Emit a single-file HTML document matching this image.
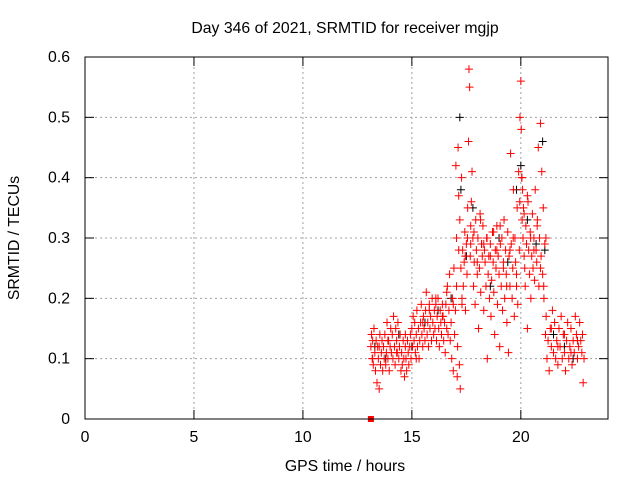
<!DOCTYPE html>
<html><head><meta charset="utf-8"><style>
body{margin:0;background:#fff}
svg{display:block;font-family:"Liberation Sans",sans-serif}
</style></head><body>
<svg id="chart" width="640" height="480">
<text x="345" y="33" font-size="15.8" text-anchor="middle">Day 346 of 2021, SRMTID for receiver mgjp</text>
<text x="345" y="471" font-size="15.8" text-anchor="middle">GPS time / hours</text>
<text transform="translate(19,238) rotate(-90)" font-size="15.8" text-anchor="middle">SRMTID / TECUs</text>
<g id="grid"></g><g id="ticks"></g><g id="black"></g><g id="red"></g>
<rect x="85" y="57" width="523" height="362" fill="none" stroke="#000" stroke-width="1"/>
</svg>
<script>
const xTicks=[0,5,10,15,20];
const yTicks=[0,0.1,0.2,0.3,0.4,0.5,0.6];
const redT=[13.12,13.15,13.18,13.2,13.23,13.26,13.3,13.33,13.36,13.4,13.43,13.46,13.5,13.53,13.56,13.6,13.63,13.66,13.7,13.73,13.76,13.8,13.83,13.86,13.9,13.93,13.96,14.0,14.03,14.06,14.1,14.13,14.16,14.2,14.23,14.26,14.3,14.33,14.36,14.4,14.43,14.46,14.5,14.53,14.56,14.6,14.63,14.66,14.7,14.73,14.76,14.8,14.83,14.86,14.9,14.93,14.96,15.0,15.03,15.06,15.1,15.13,15.16,15.2,15.23,15.26,15.3,15.33,15.36,15.4,15.43,15.46,15.5,15.53,15.56,15.6,15.63,15.66,15.7,15.73,15.76,15.8,15.83,15.86,15.9,15.93,15.96,16.0,16.03,16.06,16.1,16.13,16.16,16.2,16.23,16.26,16.3,16.33,16.36,16.4,16.43,16.46,16.5,16.53,16.56,16.6,16.63,16.66,16.7,16.73,16.76,16.8,16.83,16.86,16.9,16.93,16.96,17.0,17.02,17.05,17.08,17.1,17.12,17.15,17.18,17.2,17.22,17.25,17.28,17.3,17.33,17.36,17.4,17.43,17.46,17.5,17.53,17.56,17.6,17.62,17.65,17.68,17.7,17.73,17.76,17.8,17.83,17.86,17.9,17.93,17.96,18.0,18.03,18.06,18.1,18.13,18.16,18.2,18.23,18.26,18.3,18.33,18.36,18.4,18.43,18.46,18.5,18.53,18.56,18.6,18.63,18.66,18.7,18.73,18.76,18.8,18.83,18.86,18.9,18.93,18.96,19.0,19.03,19.06,19.1,19.13,19.16,19.2,19.23,19.26,19.3,19.33,19.36,19.4,19.43,19.46,19.5,19.53,19.56,19.6,19.63,19.66,19.7,19.73,19.76,19.8,19.83,19.86,19.9,19.93,19.96,20.0,20.02,20.04,20.06,20.08,20.1,20.12,20.15,20.18,20.2,20.23,20.26,20.3,20.33,20.36,20.4,20.43,20.46,20.5,20.53,20.56,20.6,20.63,20.66,20.7,20.73,20.76,20.8,20.83,20.86,20.9,20.93,20.96,21.0,21.03,21.06,21.1,21.13,21.16,21.2,21.25,21.3,21.35,21.4,21.45,21.5,21.55,21.6,21.65,21.7,21.75,21.8,21.85,21.9,21.95,22.0,22.05,22.1,22.15,22.2,22.25,22.3,22.35,22.4,22.45,22.5,22.55,22.6,22.65,22.7,22.75,22.8,22.83,22.86,22.9];
const redV=[0.12,0.14,0.1,0.13,0.09,0.15,0.11,0.08,0.13,0.06,0.12,0.1,0.05,0.14,0.09,0.11,0.13,0.08,0.12,0.1,0.14,0.09,0.11,0.16,0.1,0.13,0.08,0.12,0.15,0.11,0.14,0.1,0.17,0.12,0.09,0.15,0.13,0.11,0.16,0.1,0.12,0.14,0.08,0.11,0.09,0.13,0.1,0.07,0.12,0.1,0.08,0.13,0.11,0.09,0.12,0.14,0.1,0.15,0.12,0.17,0.13,0.16,0.11,0.14,0.18,0.12,0.15,0.1,0.13,0.16,0.19,0.14,0.12,0.17,0.15,0.13,0.18,0.21,0.14,0.16,0.12,0.19,0.15,0.17,0.13,0.2,0.16,0.14,0.18,0.15,0.19,0.13,0.17,0.2,0.15,0.12,0.18,0.16,0.14,0.19,0.17,0.13,0.16,0.11,0.19,0.15,0.22,0.14,0.18,0.24,0.13,0.16,0.1,0.2,0.08,0.25,0.14,0.18,0.42,0.3,0.07,0.12,0.45,0.37,0.09,0.33,0.05,0.25,0.4,0.19,0.28,0.22,0.26,0.31,0.18,0.29,0.24,0.35,0.46,0.58,0.55,0.27,0.32,0.36,0.41,0.3,0.22,0.26,0.19,0.33,0.28,0.24,0.3,0.15,0.25,0.34,0.21,0.29,0.27,0.32,0.18,0.28,0.26,0.22,0.3,0.1,0.24,0.27,0.2,0.29,0.17,0.23,0.31,0.26,0.21,0.14,0.28,0.25,0.32,0.19,0.27,0.24,0.12,0.29,0.22,0.3,0.18,0.26,0.33,0.2,0.28,0.24,0.16,0.31,0.11,0.27,0.22,0.44,0.29,0.2,0.25,0.38,0.17,0.3,0.26,0.22,0.35,0.19,0.41,0.28,0.5,0.56,0.48,0.4,0.33,0.38,0.3,0.35,0.27,0.25,0.22,0.32,0.29,0.15,0.36,0.28,0.24,0.31,0.2,0.27,0.34,0.25,0.3,0.23,0.38,0.28,0.26,0.33,0.45,0.22,0.3,0.49,0.27,0.41,0.24,0.35,0.2,0.29,0.14,0.17,0.1,0.13,0.08,0.15,0.12,0.18,0.11,0.16,0.1,0.13,0.09,0.15,0.12,0.17,0.1,0.14,0.11,0.08,0.13,0.16,0.1,0.12,0.15,0.09,0.13,0.11,0.17,0.14,0.1,0.12,0.16,0.13,0.11,0.14,0.06,0.1,0.05,0.08];
const red2T=[13.2,13.5,13.9,14.3,14.7,15.2,15.5,15.8,16.1,16.4,16.6,16.9,17.05,17.15,17.3,17.45,17.55,17.7,17.85,18.0,18.15,18.3,18.45,18.6,18.75,18.9,19.05,19.2,19.35,19.5,19.65,19.8,19.95,20.05,20.15,20.3,20.45,20.6,20.75,20.9,21.05,21.15,21.4,21.7,22.0,22.3,22.6];
const red2V=[0.1,0.12,0.13,0.11,0.14,0.1,0.16,0.18,0.2,0.17,0.21,0.19,0.22,0.28,0.2,0.27,0.3,0.29,0.31,0.26,0.33,0.29,0.3,0.27,0.31,0.28,0.32,0.25,0.22,0.28,0.3,0.24,0.36,0.4,0.34,0.37,0.3,0.28,0.32,0.25,0.22,0.3,0.15,0.12,0.14,0.11,0.13];
const blackT=[13.3,13.8,14.4,15.0,15.6,16.2,16.8,17.2,17.25,17.5,17.8,18.2,18.6,19.0,19.4,19.8,20.0,20.3,20.7,21.0,21.1,21.5,22.0,22.4];
const blackV=[0.12,0.1,0.14,0.12,0.16,0.18,0.2,0.5,0.38,0.27,0.35,0.29,0.22,0.3,0.26,0.38,0.42,0.33,0.29,0.46,0.28,0.14,0.12,0.1];
const X=t=>85+t*(523/24);
const Y=v=>419-v*(362/0.6);
const NS='http://www.w3.org/2000/svg';
function mk(tag,attrs,parent){const e=document.createElementNS(NS,tag);for(const k in attrs)e.setAttribute(k,attrs[k]);parent.appendChild(e);return e;}
const grid=document.getElementById('grid'),ticks=document.getElementById('ticks');
xTicks.forEach(t=>{
  const x=X(t);
  if(t>0){const g=mk('line',{x1:x,x2:x,y1:57,y2:419,stroke:'#a0a0a0','stroke-dasharray':'2,3'},grid);
  
  }
  mk('line',{x1:x,x2:x,y1:419,y2:410,stroke:'#000'},ticks);
  mk('line',{x1:x,x2:x,y1:57,y2:66,stroke:'#000'},ticks);
  const l=mk('text',{x:x,y:442,'font-size':15.8,'text-anchor':'middle'},ticks);l.textContent=t;
  
  
});
yTicks.forEach(v=>{
  const y=Y(v);
  if(v>0&&v<0.6){const g=mk('line',{x1:85,x2:608,y1:y,y2:y,stroke:'#a0a0a0','stroke-dasharray':'2,3'},grid);
  
  }
  mk('line',{x1:85,x2:94,y1:y,y2:y,stroke:'#000'},ticks);
  mk('line',{x1:599,x2:608,y1:y,y2:y,stroke:'#000'},ticks);
  const l=mk('text',{x:70,y:y+5,'font-size':15.8,'text-anchor':'end'},ticks);l.textContent=(v===0?'0':v.toFixed(1));
  
  
});
function plus(g,t,v,c,name){
  const x=X(t),y=Y(v);
  const p=mk('path',{d:`M${x-4} ${y}H${x+4}M${x} ${y-4}V${y+4}`,stroke:c,'stroke-width':1},g);
  
  
}
const bg=document.getElementById('black'),rg=document.getElementById('red');
blackT.forEach((t,i)=>plus(bg,t,blackV[i],'#000','black-point'));
redT.forEach((t,i)=>plus(rg,t,redV[i],'#ff0000','red-point'));
red2T.forEach((t,i)=>plus(rg,t,red2V[i],'#ff0000','red-point'));
const sq=mk('rect',{x:X(13.12)-3,y:Y(0)-3,width:6,height:6,fill:'#ff0000'},rg);


</script>
</body></html>
